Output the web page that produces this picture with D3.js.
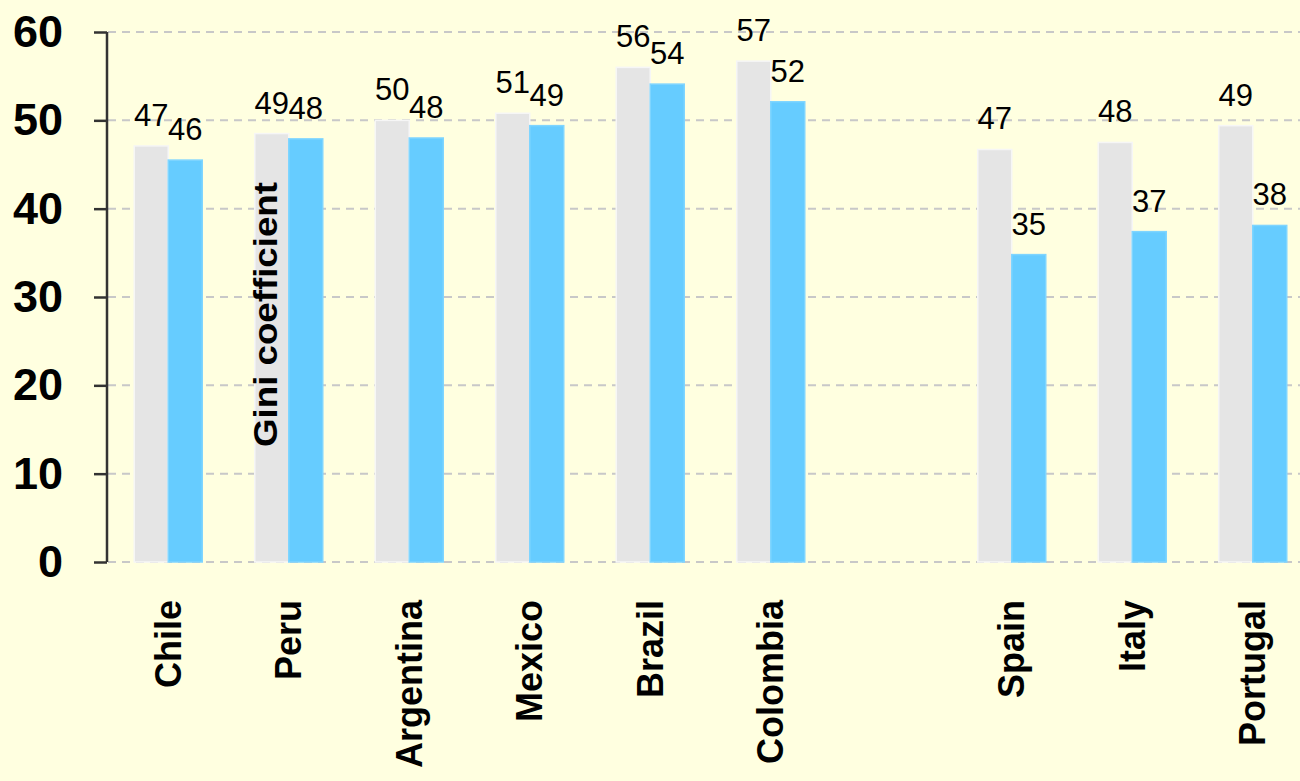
<!DOCTYPE html>
<html>
<head>
<meta charset="utf-8">
<script src="https://cdn.jsdelivr.net/npm/d3@7/dist/d3.min.js"></script>
<style>
  html, body { margin: 0; padding: 0; background: #ffffe0; overflow: hidden; }
  svg { display: block; font-family: "Liberation Sans", Arial, sans-serif; }
</style>
</head>
<body>
<svg id="chart" width="1300" height="781"></svg>
<script>
// Gini coefficients by country (two measures per country)
const latinAmerica = ["Chile", "Peru", "Argentina", "Mexico", "Brazil", "Colombia"];
const southernEurope = ["Spain", "Italy", "Portugal"];
const giniA = [47.1, 48.5, 50.0, 50.8, 56.0, 56.7, 46.7, 47.5, 49.4];
const giniB = [45.5, 47.9, 48.0, 49.4, 54.1, 52.1, 34.8, 37.4, 38.1];
const yTicks = [0, 10, 20, 30, 40, 50, 60];
const yTitle = "Gini coefficient";

const countries = latinAmerica.concat(southernEurope);
// one empty slot separates the two regions
const slots = latinAmerica.concat(["__gap__"], southernEurope);
const rows = countries.map((c, i) => ({ country: c, a: giniA[i], b: giniB[i] }));

const svg = d3.select("#chart");
const W = 1300, H = 781;
svg.append("rect").attr("width", W).attr("height", H).attr("fill", "#ffffe0");

const x0 = d3.scaleBand().domain(slots).range([108, 1313]).paddingInner(0).paddingOuter(0);
const x1 = d3.scaleBand().domain(["a", "b"]).range([0, x0.bandwidth()]).paddingInner(0).paddingOuter(0.772);
const y = d3.scaleLinear().domain([0, 60]).range([562, 32]);

// dashed gridlines
svg.append("g").selectAll("line").data(yTicks).join("line")
  .attr("x1", 108).attr("x2", W)
  .attr("y1", d => y(d)).attr("y2", d => y(d))
  .attr("stroke", "#c8c8c8").attr("stroke-width", 2)
  .attr("stroke-dasharray", "8,6");

// bars
const fills = { a: "#e5e5e5", b: "#66ccff" };
const edges = { a: "#f6f6f6", b: "#7fd5ff" };
const groups = svg.append("g").selectAll("g").data(rows).join("g")
  .attr("transform", d => `translate(${x0(d.country)},0)`);

groups.selectAll("rect").data(d => ["a", "b"].map(k => ({ k, v: d[k] }))).join("rect")
  .attr("x", d => x1(d.k))
  .attr("y", d => y(d.v))
  .attr("width", x1.bandwidth())
  .attr("height", d => y(0) - y(d.v))
  .attr("fill", d => fills[d.k])
  .attr("stroke", d => edges[d.k])
  .attr("stroke-width", 1.5);

// value labels
const fmt = d3.format(".0f");
groups.selectAll("text").data(d => ["a", "b"].map(k => ({ k, v: d[k] }))).join("text")
  .attr("x", d => x1(d.k) + x1.bandwidth() / 2)
  .attr("y", d => y(d.v) - 20)
  .attr("text-anchor", "middle")
  .attr("font-size", 31)
  .attr("fill", "#000")
  .text(d => fmt(d.v));

// y axis
const yAxis = d3.axisLeft(y).tickValues(yTicks).tickSize(13).tickPadding(31).tickFormat(d3.format("d"));
const gy = svg.append("g").attr("transform", "translate(107,0)").call(yAxis);
gy.select(".domain").attr("stroke", "#333").attr("stroke-width", 2.5)
  .attr("d", `M0,${y(60)}V${y(0)}`);
gy.selectAll(".tick line").attr("stroke", "#333").attr("stroke-width", 2.5);
gy.selectAll(".tick text")
  .attr("font-size", 45).attr("font-weight", "bold").attr("fill", "#000")
  .attr("font-family", "'Liberation Sans', Arial, sans-serif");

// category labels
const xAxis = d3.axisBottom(x0).tickSize(0).tickFormat(d => d === "__gap__" ? "" : d);
const gx = svg.append("g").attr("transform", `translate(0,${y(0)})`).call(xAxis);
gx.select(".domain").remove();
gx.selectAll(".tick text")
  .attr("transform", "rotate(-90)")
  .attr("x", -38).attr("y", 0).attr("dy", "0.35em")
  .attr("text-anchor", "end")
  .attr("font-size", 36).attr("font-weight", "bold").attr("fill", "#000")
  .attr("font-family", "'Liberation Sans', Arial, sans-serif");

// y axis title
svg.append("text")
  .attr("transform", "translate(277,447) rotate(-90)")
  .attr("font-size", 33).attr("font-weight", "bold").attr("fill", "#000")
  .attr("textLength", 265).attr("lengthAdjust", "spacingAndGlyphs")
  .text(yTitle);
</script>
</body>
</html>
